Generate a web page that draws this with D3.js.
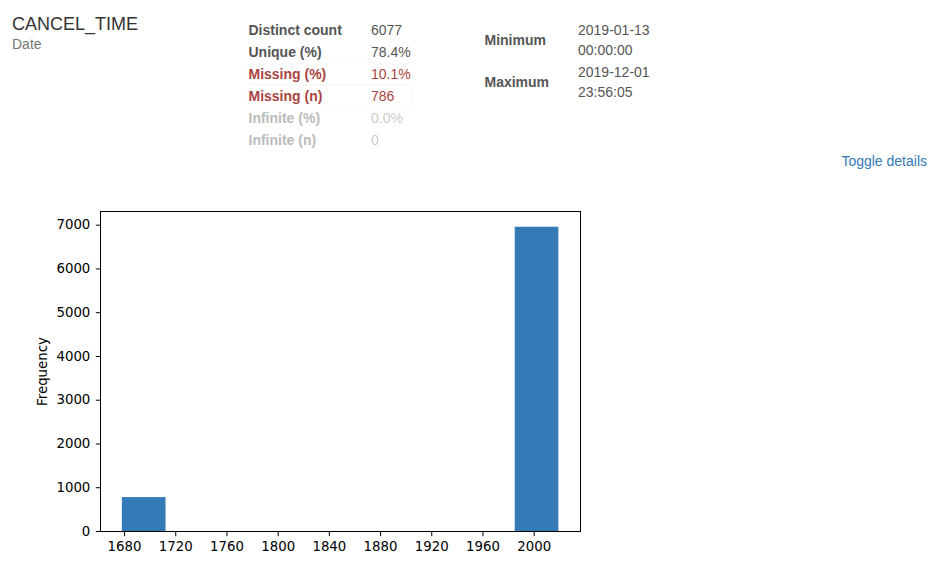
<!DOCTYPE html>
<html>
<head>
<meta charset="utf-8">
<script src="https://d3js.org/d3.v7.min.js"></script>
<style>
html, body { margin: 0; padding: 0; background: #fff; }
svg { display: block; }
.info text { font-family: "Liberation Sans", Arial, sans-serif; font-size: 14px; }
.chart text { font-family: "DejaVu Sans", sans-serif; font-size: 13.33px; fill: #000; }
.chart .domain { display: none; }
</style>
</head>
<body>
<svg width="937" height="571"></svg>
<script>
// ### Data ###
var statLabels = ['Distinct count', 'Unique (%)', 'Missing (%)', 'Missing (n)', 'Infinite (%)', 'Infinite (n)']
var statValues = ['6077', '78.4%', '10.1%', '786', '0.0%', '0']
var statColors = ['#555', '#555', '#a94442', '#a94442', '#bbb', '#bbb']
var statValueColors = ['#555', '#555', '#a94442', '#a94442', '#ccc', '#ccc']
var rangeLabels = ['Minimum', 'Maximum']
var rangeDates = ['2019-01-13', '2019-12-01']
var rangeTimes = ['00:00:00', '23:56:05']

var binStarts = [1677.9, 1712.0, 1746.1, 1780.2, 1814.3, 1848.4, 1882.5, 1916.6, 1950.7, 1984.8]
var binEnds = [1712.0, 1746.1, 1780.2, 1814.3, 1848.4, 1882.5, 1916.6, 1950.7, 1984.8, 2018.9]
var binCounts = [786, 0, 0, 0, 0, 0, 0, 0, 0, 6965]
var xTicks = [1680, 1720, 1760, 1800, 1840, 1880, 1920, 1960, 2000]
var yTicks = [0, 1000, 2000, 3000, 4000, 5000, 6000, 7000]

var svg = d3.select('svg')

// ### Header ###
var info = svg.append('g').attr('class', 'info')

info.append('text').attr('x', 12).attr('y', 30)
	.style('font-size', '18px').attr('fill', '#333').text('CANCEL_TIME')
info.append('text').attr('x', 12).attr('y', 49)
	.attr('fill', '#777').text('Date')

// faint boxes behind the missing rows
info.selectAll('rect.warn')
	.data([2, 3])
	.enter()
	.append('rect')
	.attr('class', 'warn')
	.attr('x', 248).attr('y', d => 19 + d * 22 + 0.5)
	.attr('width', 164).attr('height', 21).attr('rx', 3)
	.attr('fill', '#fff').attr('stroke', '#faf9f9')

info.selectAll('text.stat')
	.data(statLabels)
	.enter()
	.append('text')
	.attr('class', 'stat')
	.attr('x', 248.5)
	.attr('y', (d, i) => 35 + i * 22)
	.attr('fill', (d, i) => statColors[i])
	.style('font-weight', 'bold')
	.text(d => d)

info.selectAll('text.val')
	.data(statValues)
	.enter()
	.append('text')
	.attr('class', 'val')
	.attr('x', 371)
	.attr('y', (d, i) => 35 + i * 22)
	.attr('fill', (d, i) => statValueColors[i])
	.text(d => d)

info.selectAll('text.range')
	.data(rangeLabels)
	.enter()
	.append('text')
	.attr('class', 'range')
	.attr('x', 484.5)
	.attr('y', (d, i) => 45 + i * 42)
	.attr('fill', '#555')
	.style('font-weight', 'bold')
	.text(d => d)

info.selectAll('text.date')
	.data(rangeDates)
	.enter()
	.append('text')
	.attr('class', 'date')
	.attr('x', 578)
	.attr('y', (d, i) => 35 + i * 42)
	.attr('fill', '#555')
	.text(d => d)

info.selectAll('text.time')
	.data(rangeTimes)
	.enter()
	.append('text')
	.attr('class', 'time')
	.attr('x', 578)
	.attr('y', (d, i) => 55 + i * 42)
	.attr('fill', '#555')
	.text(d => d)

info.append('text').attr('x', 927).attr('y', 166)
	.attr('text-anchor', 'end').attr('fill', '#337ab7').text('Toggle details')

// ### Scales ###
var plot = {left: 100.5, right: 580.5, top: 211.5, bottom: 531.5}

var xScale = d3.scaleLinear()
	.domain([1661.2, 2036.2])
	.range([plot.left, plot.right])
var yScale = d3.scaleLinear()
	.domain([0, 7313])
	.range([plot.bottom, plot.top])

var chart = svg.append('g').attr('class', 'chart')

// ### Bars ###
chart.selectAll('rect.bar')
	.data(binCounts)
	.enter()
	.append('rect')
	.attr('class', 'bar')
	.attr('x', (d, i) => xScale(binStarts[i]))
	.attr('y', d => yScale(d))
	.attr('width', (d, i) => xScale(binEnds[i]) - xScale(binStarts[i]))
	.attr('height', d => yScale(0) - yScale(d))
	.attr('fill', '#337ab7')

// ### Axis ###
var xAxis = d3.axisBottom(xScale).tickValues(xTicks).tickFormat(d3.format('d')).tickSize(4.67).tickPadding(5.5).offset(0)
var yAxis = d3.axisLeft(yScale).tickValues(yTicks).tickFormat(d3.format('d')).tickSize(4.67).tickPadding(5.5).offset(0)

chart.append('g').attr('transform', `translate(0, ${plot.bottom})`).call(xAxis)
chart.append('g').attr('transform', `translate(${plot.left}, 0)`).call(yAxis)
chart.selectAll('.tick line').attr('stroke', '#000').attr('stroke-width', 1)

chart.append('rect')
	.attr('x', plot.left).attr('y', plot.top)
	.attr('width', plot.right - plot.left).attr('height', plot.bottom - plot.top)
	.attr('fill', 'none').attr('stroke', '#000').attr('stroke-width', 1)

chart.append('text')
	.attr('transform', `translate(47, ${(plot.top + plot.bottom) / 2}) rotate(-90)`)
	.attr('text-anchor', 'middle')
	.text('Frequency')
</script>
</body>
</html>
